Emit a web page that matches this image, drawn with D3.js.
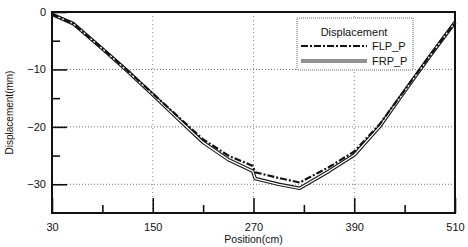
<!DOCTYPE html>
<html>
<head>
<meta charset="utf-8">
<script src="https://cdn.jsdelivr.net/npm/d3@7"></script>
<style>
    body { margin: 0; background: #fff; }
    text { font-family: "Liberation Sans", Arial, sans-serif; fill: #111; }
</style>
</head>
<body>
<svg id="chart" width="468" height="247"></svg>
<script>
// positions (cm) -- 269/272 pair makes the small step both curves have at 270
var positions = [30, 55, 90, 120, 150, 180, 210, 240, 269, 272, 300, 325, 360, 390, 420, 450, 480, 510];
var flp = [-0.4, -2.0, -6.4, -10.2, -14.2, -18.2, -22.2, -25.0, -26.8, -27.9, -28.9, -29.7, -27.0, -24.3, -19.6, -13.6, -7.6, -1.8];
var frp = [-0.4, -2.0, -6.4, -10.3, -14.4, -18.6, -22.7, -25.7, -27.7, -29.0, -30.0, -30.7, -27.7, -24.9, -20.0, -13.8, -7.7, -1.8];

var xMajor = [30, 150, 270, 390, 510];
var xMinor = [90, 210, 330, 450];
var yMajor = [0, -10, -20, -30];
var yMinor = [-5, -15, -25];
var gridX = [150, 270, 390];
var gridY = [-10, -20, -30];

var seriesNames = ["FLP_P", "FRP_P"];

var svg = d3.select("#chart");

var x = d3.scaleLinear().domain([30, 510]).range([52, 455]);
var y = d3.scaleLinear().domain([-35, 0]).range([213, 12]);

// dotted grid
svg.append("g")
    .selectAll("line")
    .data(gridX)
    .enter()
    .append("line")
    .attr("x1", function(d) { return x(d); })
    .attr("x2", function(d) { return x(d); })
    .attr("y1", y(0))
    .attr("y2", y(-35))
    .style("stroke", "#888")
    .style("stroke-width", 1)
    .style("stroke-dasharray", "1,3");

svg.append("g")
    .selectAll("line")
    .data(gridY)
    .enter()
    .append("line")
    .attr("x1", x(30))
    .attr("x2", x(510))
    .attr("y1", function(d) { return y(d); })
    .attr("y2", function(d) { return y(d); })
    .style("stroke", "#777")
    .style("stroke-width", 1)
    .style("stroke-dasharray", "1,2");

var line = d3.line()
    .x(function(d) { return x(d[0]); })
    .y(function(d) { return y(d[1]); });

var flpPts = positions.map(function(p, i) { return [p, flp[i]]; });
var frpPts = positions.map(function(p, i) { return [p, frp[i]]; });

// FRP_P: hollow double line
svg.append("path")
    .datum(frpPts)
    .attr("d", line)
    .style("fill", "none")
    .style("stroke", "#1a1a1a")
    .style("stroke-width", 3.6)
    .style("stroke-linejoin", "round");
svg.append("path")
    .datum(frpPts)
    .attr("d", line)
    .style("fill", "none")
    .style("stroke", "#fff")
    .style("stroke-width", 1.3)
    .style("stroke-linejoin", "round");

// FLP_P: dash dot
svg.append("path")
    .datum(flpPts)
    .attr("d", line)
    .style("fill", "none")
    .style("stroke", "#111")
    .style("stroke-width", 2.2)
    .style("stroke-dasharray", "7,2,2,2");

// axes, ticks drawn inward
var axisStyle = function(g) {
    g.select(".domain").remove();
    g.selectAll(".tick line").style("stroke", "#111").style("stroke-width", 1.6);
    g.selectAll(".tick text").style("font-size", "11px");
};

svg.append("g")
    .attr("transform", "translate(" + x(30) + ",0)")
    .call(d3.axisLeft(y).tickValues(yMajor).tickSize(-15).tickPadding(6).tickFormat(d3.format("d")))
    .call(axisStyle)
    .selectAll(".tick text")
    .attr("x", -6);

svg.append("g")
    .attr("transform", "translate(" + x(30) + ",0)")
    .call(d3.axisLeft(y).tickValues(yMinor).tickSize(-8).tickFormat(""))
    .call(axisStyle);

svg.append("g")
    .attr("transform", "translate(0," + y(-35) + ")")
    .call(d3.axisBottom(x).tickValues(xMajor).tickSize(-15).tickFormat(d3.format("d")))
    .call(axisStyle)
    .selectAll(".tick text")
    .attr("y", 10);

svg.append("g")
    .attr("transform", "translate(0," + y(-35) + ")")
    .call(d3.axisBottom(x).tickValues(xMinor).tickSize(-8).tickFormat(""))
    .call(axisStyle);

// frame
svg.append("rect")
    .attr("x", x(30))
    .attr("y", y(0))
    .attr("width", x(510) - x(30))
    .attr("height", y(-35) - y(0))
    .style("fill", "none")
    .style("stroke", "#111")
    .style("stroke-width", 2);

// axis titles
svg.append("text")
    .attr("x", (x(30) + x(510)) / 2)
    .attr("y", 243)
    .attr("text-anchor", "middle")
    .style("font-size", "10.5px")
    .text("Position(cm)");

svg.append("text")
    .attr("transform", "translate(13," + ((y(0) + y(-35)) / 2) + ") rotate(-90)")
    .attr("text-anchor", "middle")
    .style("font-size", "10px")
    .text("Displacement(mm)");

// legend
var legend = svg.append("g").attr("transform", "translate(297,18)");
legend.append("rect")
    .attr("width", 116)
    .attr("height", 52)
    .style("fill", "#fff")
    .style("stroke", "#666")
    .style("stroke-width", 1)
    .style("stroke-dasharray", "1,1");
legend.append("text")
    .attr("x", 57)
    .attr("y", 18)
    .attr("text-anchor", "middle")
    .style("font-size", "11px")
    .text("Displacement");

var rows = legend.selectAll(".row")
    .data(seriesNames)
    .enter()
    .append("g")
    .attr("class", "row")
    .attr("transform", function(d, i) { return "translate(0," + (28 + i * 15) + ")"; });

rows.each(function(d, i) {
    var g = d3.select(this);
    if (i === 0) {
        g.append("line").attr("x1", 4).attr("x2", 70)
            .style("stroke", "#111").style("stroke-width", 1.8)
            .style("stroke-dasharray", "7,2,2,2");
    } else {
        g.append("line").attr("x1", 4).attr("x2", 70)
            .style("stroke", "#222").style("stroke-width", 3.2);
        g.append("line").attr("x1", 4).attr("x2", 70)
            .style("stroke", "#fff").style("stroke-width", 1.1);
    }
    g.append("text")
        .attr("x", 75)
        .attr("y", 4)
        .style("font-size", "11px")
        .text(d);
});
</script>
</body>
</html>
